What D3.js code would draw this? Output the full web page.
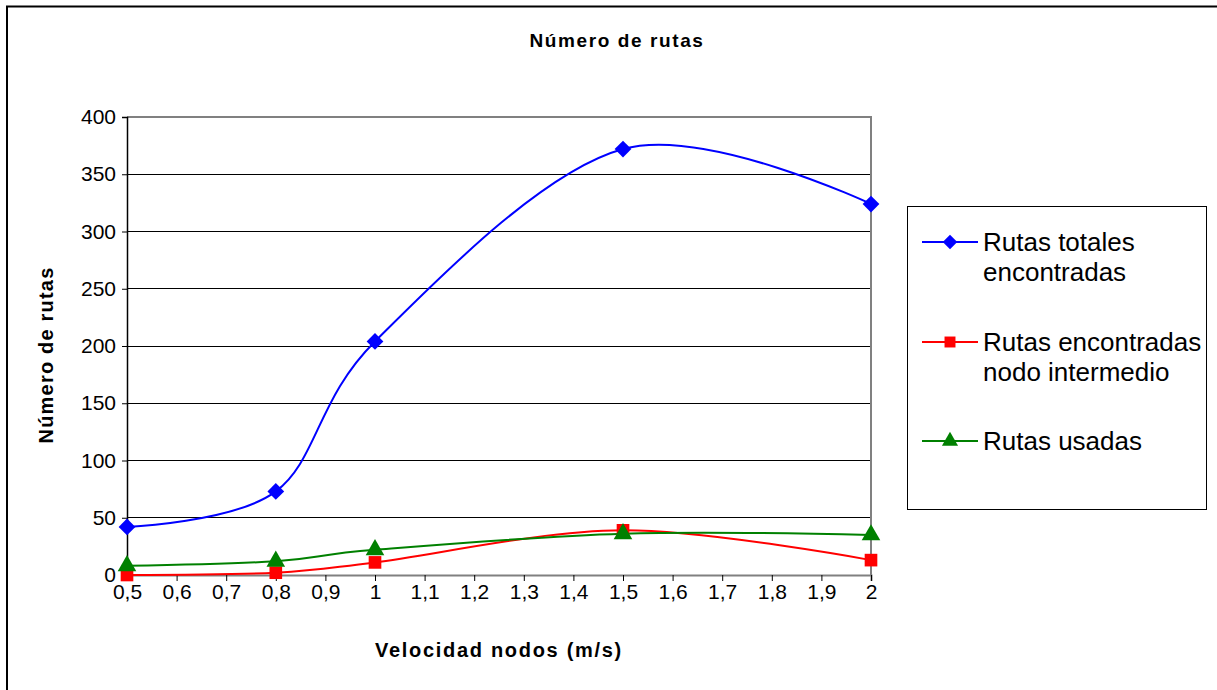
<!DOCTYPE html>
<html>
<head>
<meta charset="utf-8">
<script src="https://cdn.jsdelivr.net/npm/d3@7/dist/d3.min.js"></script>
<style>
html,body{margin:0;padding:0;background:#fff;}
svg{display:block;font-family:"Liberation Sans",Arial,sans-serif;}
</style>
</head>
<body>
<svg id="chart" width="1217" height="690"></svg>
<script>
const xValues = [0.5, 0.8, 1, 1.5, 2];
const totales = [42, 73, 204, 372, 324];
const intermedio = [0, 2, 11, 39, 13];
const usadas = [8, 12, 22, 36, 35];
const xTicks = [0.5,0.6,0.7,0.8,0.9,1,1.1,1.2,1.3,1.4,1.5,1.6,1.7,1.8,1.9,2];
const yTicks = [0,50,100,150,200,250,300,350,400];
const seriesNames = [["Rutas totales","encontradas"],["Rutas encontradas","nodo intermedio"],["Rutas usadas"]];
const title = "Número de rutas";
const xTitle = "Velocidad nodos (m/s)";
const yTitle = "Número de rutas";

const series = [
  {name: seriesNames[0], values: totales, color: "#0000ff", symbol: d3.symbolSquare, size: 140, rot: 45},
  {name: seriesNames[1], values: intermedio, color: "#ff0000", symbol: d3.symbolSquare, size: 160, rot: 0},
  {name: seriesNames[2], values: usadas, color: "#008000", symbol: d3.symbolTriangle, size: 150, rot: 0}
];

const svg = d3.select("#chart");
const pLeft = 127, pRight = 871, pTop = 117, pBottom = 575;
const x = d3.scaleLinear().domain([0.5, 2]).range([pLeft, pRight]);
const y = d3.scaleLinear().domain([0, 400]).range([pBottom, pTop]);

// outer border
svg.append("rect").attr("x", 7).attr("y", 6.5).attr("width", 1300).attr("height", 800)
  .attr("fill", "none").attr("stroke", "#000").attr("stroke-width", 2);

// title
svg.append("text").attr("x", 617).attr("y", 47).attr("text-anchor", "middle")
  .attr("font-size", 19).attr("font-weight", "bold").attr("letter-spacing", 1.6).text(title);

// gridlines
svg.append("g").selectAll("line").data(yTicks.filter(d => d > 0 && d < 400)).join("line")
  .attr("x1", pLeft).attr("x2", pRight).attr("y1", d => y(d)).attr("y2", d => y(d))
  .attr("stroke", "#000").attr("stroke-width", 1).attr("shape-rendering", "crispEdges");

// plot area top/right border
svg.append("path").attr("d", `M${pLeft},${pTop}H${pRight}V${pBottom}`)
  .attr("fill", "none").attr("stroke", "#808080").attr("stroke-width", 2);

// y axis
const yAxis = d3.axisLeft(y).tickValues(yTicks).tickSize(5).tickPadding(6)
  .tickFormat(d3.format("d"));
const gy = svg.append("g").attr("transform", `translate(${pLeft},0)`).call(yAxis);
gy.attr("font-size", 21).attr("font-family", "Liberation Sans, Arial, sans-serif");
gy.select(".domain").attr("stroke", "#000").attr("stroke-width", 1.5);
gy.selectAll(".tick line").attr("stroke", "#000");
gy.selectAll(".tick text").attr("fill", "#000");

// x axis
const fmt = d => String(d).replace(".", ",");
const xAxis = d3.axisBottom(x).tickValues(xTicks).tickSize(6).tickPadding(3).tickFormat(fmt);
const gx = svg.append("g").attr("transform", `translate(0,${pBottom})`).call(xAxis);
gx.attr("font-size", 21).attr("font-family", "Liberation Sans, Arial, sans-serif");
gx.select(".domain").attr("stroke", "#808080").attr("stroke-width", 2);
gx.selectAll(".tick line").attr("stroke", "#000");
gx.selectAll(".tick text").attr("fill", "#000");

// axis titles
svg.append("text").attr("x", 499).attr("y", 657).attr("text-anchor", "middle")
  .attr("font-size", 20).attr("font-weight", "bold").attr("letter-spacing", 1.7).text(xTitle);
svg.append("text").attr("transform", "translate(53,355) rotate(-90)").attr("text-anchor", "middle")
  .attr("font-size", 20).attr("font-weight", "bold").attr("letter-spacing", 1.2).text(yTitle);

// lines
const line = d3.line().x(d => x(d[0])).y(d => y(d[1])).curve(d3.curveCardinal.tension(0));
series.forEach(s => {
  const pts = xValues.map((v, i) => [v, s.values[i]]);
  svg.append("path").datum(pts).attr("d", line).attr("fill", "none")
    .attr("stroke", s.color).attr("stroke-width", 2);
});
series.forEach(s => {
  const pts = xValues.map((v, i) => [v, s.values[i]]);
  svg.append("g").selectAll("path").data(pts).join("path")
    .attr("transform", d => `translate(${x(d[0])},${y(d[1])}) rotate(${s.rot})`)
    .attr("d", d3.symbol().type(s.symbol).size(s.size)).attr("fill", s.color);
});

// legend
svg.append("rect").attr("x", 907.5).attr("y", 206.5).attr("width", 299).attr("height", 303)
  .attr("fill", "#fff").attr("stroke", "#000").attr("stroke-width", 1);
const legY = [242, 342, 441];
series.forEach((s, i) => {
  const g = svg.append("g").attr("transform", `translate(0,${legY[i]})`);
  g.append("line").attr("x1", 922).attr("x2", 978).attr("y1", 0).attr("y2", 0)
    .attr("stroke", s.color).attr("stroke-width", 2);
  g.append("path").attr("transform", `translate(950,0) rotate(${s.rot})`)
    .attr("d", d3.symbol().type(s.symbol).size(s.size * 0.75)).attr("fill", s.color);
  s.name.forEach((t, j) => {
    g.append("text").attr("x", 983).attr("y", j * 30 + 9).attr("font-size", 26).attr("fill", "#000").text(t);
  });
});
</script>
</body>
</html>
